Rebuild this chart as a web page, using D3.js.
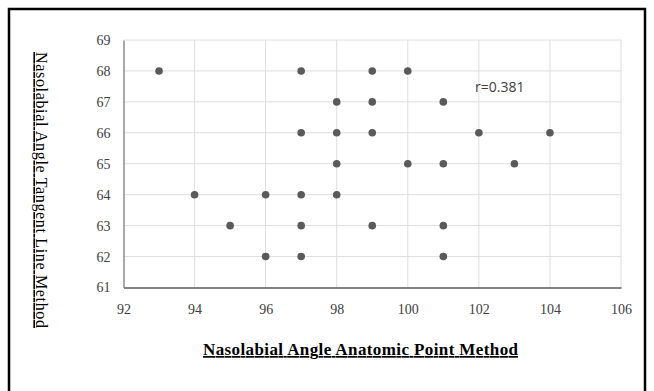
<!DOCTYPE html>
<html>
<head>
<meta charset="utf-8">
<script src="https://cdn.jsdelivr.net/npm/d3@7"></script>
<style>
  body { margin: 0; background: #fff; }
  svg { display: block; }
</style>
</head>
<body>
<div id="chart"></div>
<script>
// anatomic point method (x) vs tangent line method (y)
const anatomic = [93, 97, 99, 100, 98, 99, 101, 97, 98, 99, 102, 104, 98, 100, 101, 103, 94, 96, 97, 98, 95, 97, 99, 101, 96, 97, 101];
const tangent  = [68, 68, 68, 68, 67, 67, 67, 66, 66, 66, 66, 66, 65, 65, 65, 65, 64, 64, 64, 64, 63, 63, 63, 63, 62, 62, 62];
const xTicks = [92, 94, 96, 98, 100, 102, 104, 106];
const yTicks = [61, 62, 63, 64, 65, 66, 67, 68, 69];
const xTitle = "Nasolabial Angle Anatomic Point Method";
const yTitle = "Nasolabial Angle Tangent Line Method";
const rLabel = "r=0.381";

const w = 654, h = 391;
const padLeft = 123.5, padRight = 621, padTop = 40, padBottom = 287.5;

const svg = d3.select("#chart").append("svg")
    .attr("width", w)
    .attr("height", h);

// frame
svg.append("path")
    .attr("d", "M9,391 V9 H645 V391")
    .attr("fill", "none")
    .attr("stroke", "#000")
    .attr("stroke-width", 2.5);

const x = d3.scaleLinear().domain([92, 106]).range([padLeft, padRight]);
const y = d3.scaleLinear().domain([61, 69]).range([padBottom, padTop]);

// grid
svg.append("g")
    .selectAll("line")
    .data(yTicks.slice(1))
    .enter().append("line")
    .attr("x1", padLeft).attr("x2", padRight)
    .attr("y1", d => y(d)).attr("y2", d => y(d))
    .attr("stroke", "#dedede").attr("stroke-width", 1);
svg.append("g")
    .selectAll("line")
    .data(xTicks.slice(1))
    .enter().append("line")
    .attr("x1", d => x(d)).attr("x2", d => x(d))
    .attr("y1", padTop).attr("y2", padBottom)
    .attr("stroke", "#dedede").attr("stroke-width", 1);

// axes
const xAxis = d3.axisBottom(x).tickValues(xTicks).tickSize(0).tickPadding(17);
const yAxis = d3.axisLeft(y).tickValues(yTicks).tickSize(0).tickPadding(13);

const gx = svg.append("g")
    .attr("transform", "translate(0," + padBottom + ")")
    .call(xAxis);
gx.select(".domain").attr("stroke", "#595959").attr("stroke-width", 1.5);

const gy = svg.append("g")
    .attr("transform", "translate(" + padLeft + ",0)")
    .call(yAxis);
gy.select(".domain").attr("stroke", "#8c8c8c").attr("stroke-width", 1.5);

svg.selectAll(".tick text")
    .attr("font-family", "Liberation Serif, serif")
    .attr("font-size", 14)
    .attr("fill", "#404040");

// points
svg.append("g")
    .selectAll("circle")
    .data(anatomic.map((d, i) => ({ x: d, y: tangent[i] })))
    .enter().append("circle")
    .attr("cx", d => x(d.x))
    .attr("cy", d => y(d.y))
    .attr("r", 3.8)
    .attr("fill", "#5a5a5a");

svg.append("text")
    .text(rLabel)
    .attr("x", 475)
    .attr("y", 92)
    .attr("font-family", "Open Sans, sans-serif")
    .attr("font-size", 14)
    .attr("fill", "#404040");

svg.append("text")
    .text(xTitle)
    .attr("x", 360.5)
    .attr("y", 355)
    .attr("text-anchor", "middle")
    .attr("textLength", 315)
    .attr("font-family", "Liberation Serif, serif")
    .attr("font-size", 17)
    .attr("font-weight", "bold")
    .attr("text-decoration", "underline")
    .attr("fill", "#000");

svg.append("text")
    .text(yTitle)
    .attr("transform", "translate(36,190) rotate(90)")
    .attr("text-anchor", "middle")
    .attr("textLength", 276)
    .attr("font-family", "Liberation Serif, serif")
    .attr("font-size", 16)
    .attr("text-decoration", "underline")
    .attr("fill", "#000");
</script>
</body>
</html>
